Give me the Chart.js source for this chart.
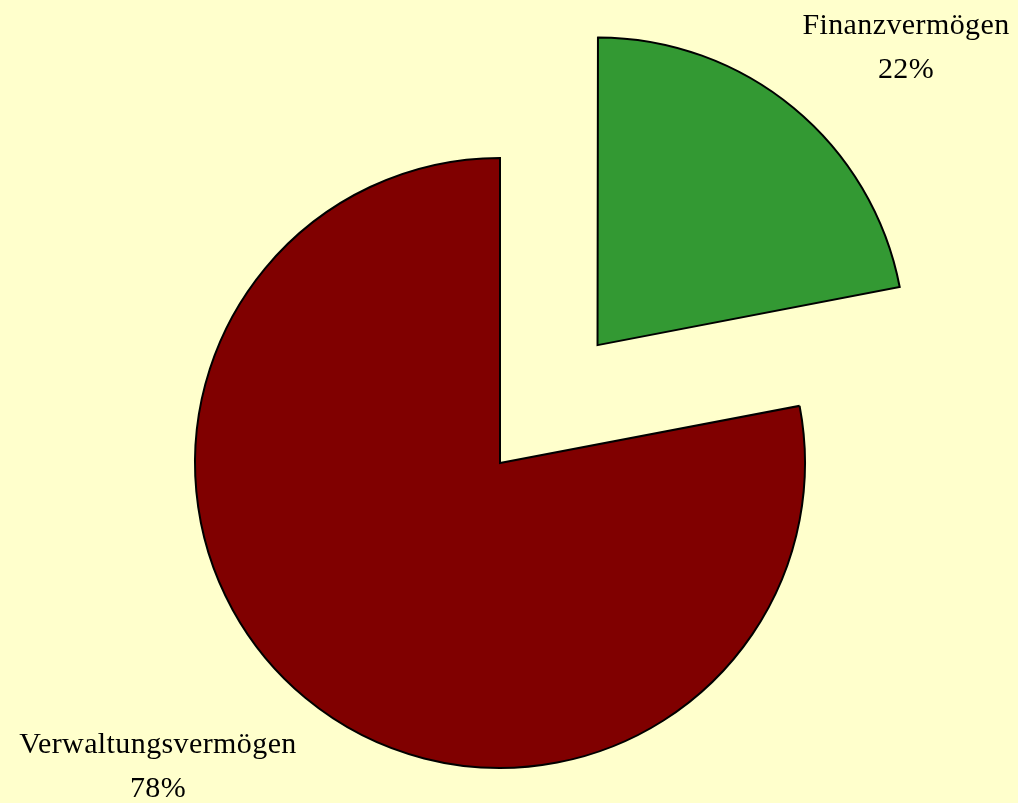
<!DOCTYPE html>
<html>
<head>
<meta charset="utf-8">
<script src="https://cdn.jsdelivr.net/npm/chart.js@4/dist/chart.umd.min.js"></script>
<style>
html,body{margin:0;padding:0;background:#FFFFCC;}
canvas{display:block;}
</style>
</head>
<body>
<canvas id="c" width="1018" height="803"></canvas>
<script>
const categories = ['Finanzvermögen', 'Verwaltungsvermögen'];
const shares = [22, 78];
const percentLabels = ['22%', '78%'];
const sliceColors = ['#339933', '#800000'];
// Chart.js v4 arcs move by offset/4, so 612 gives a 153px explode
const explode = [612, 0];

const labelPlugin = {
  id: 'sliceLabels',
  afterDatasetsDraw(chart) {
    const ctx = chart.ctx;
    const anchors = [[906, 34], [158, 753]];
    ctx.save();
    ctx.fillStyle = '#000';
    ctx.font = '30px "Liberation Serif", "Times New Roman", serif';
    ctx.textAlign = 'center';
    ctx.textBaseline = 'alphabetic';
    try { ctx.letterSpacing = '0.4px'; } catch (e) {}
    categories.forEach((name, i) => {
      const [x, y] = anchors[i];
      ctx.fillText(name, x, y);
      ctx.fillText(percentLabels[i], x, y + 44);
    });
    ctx.restore();
  }
};

const bgPlugin = {
  id: 'bg',
  beforeDraw(chart) {
    const ctx = chart.ctx;
    ctx.save();
    ctx.fillStyle = '#FFFFCC';
    ctx.fillRect(0, 0, chart.width, chart.height);
    ctx.restore();
  }
};

new Chart(document.getElementById('c'), {
  type: 'pie',
  data: {
    labels: categories,
    datasets: [{
      data: shares,
      backgroundColor: sliceColors,
      borderColor: '#000000',
      borderWidth: 2,
      borderJoinStyle: 'miter',
      offset: explode,
      hoverOffset: 0
    }]
  },
  options: {
    responsive: false,
    animation: false,
    radius: 305,
    layout: { padding: { left: 0, right: 18, top: 123, bottom: 0 } },
    plugins: {
      legend: { display: false },
      tooltip: { enabled: false }
    }
  },
  plugins: [bgPlugin, labelPlugin]
});
</script>
</body>
</html>
